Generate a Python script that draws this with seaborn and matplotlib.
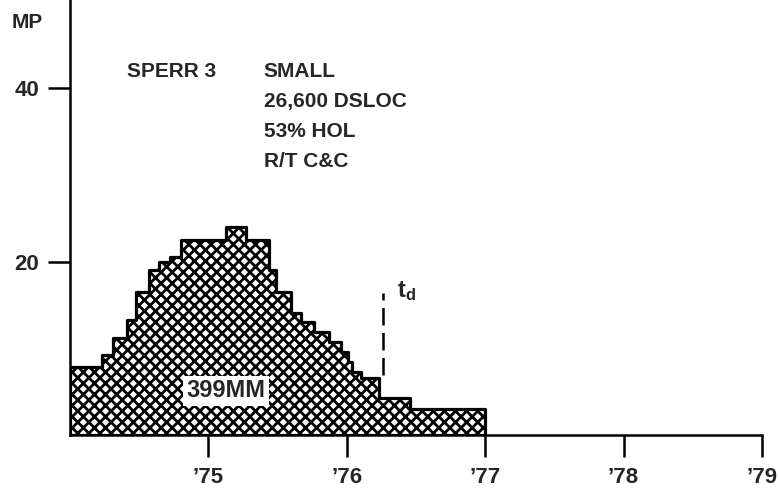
import matplotlib
matplotlib.use('Agg')
import matplotlib.pyplot as plt
import seaborn as sns

# staffing profile: step edges (years) and manpower per step
edges = [1974.0, 1974.23, 1974.31, 1974.41, 1974.48, 1974.57, 1974.64, 1974.72, 1974.80,
         1975.13, 1975.27, 1975.44, 1975.49, 1975.60, 1975.67, 1975.76, 1975.87, 1975.96,
         1976.01, 1976.04, 1976.10, 1976.23, 1976.46, 1977.0]
mp = [7.8, 9.2, 11.2, 13.3, 16.5, 19.0, 20.0, 20.5, 22.5, 24.0, 22.5, 19.0, 16.5, 14.1,
      13.0, 11.9, 10.7, 9.6, 8.4, 7.3, 6.6, 4.3, 3.0]

year_ticks = [1975, 1976, 1977, 1978, 1979]
year_labels = ["\u201975", "\u201976", "\u201977", "\u201978", "\u201979"]
mp_ticks = [20, 40]

td_year = 1976.26
td_range = (6.9, 16.4)
effort_label = "399MM"
title_left = "SPERR 3"
info_lines = ["SMALL", "26,600 DSLOC", "53% HOL", "R/T C&C"]

sns.set_theme(style="white")
plt.rcParams['font.family'] = ['Liberation Sans', 'DejaVu Sans']
plt.rcParams['hatch.color'] = 'black'
plt.rcParams['hatch.linewidth'] = 2.0
plt.rcParams['mathtext.fontset'] = 'custom'
plt.rcParams['mathtext.bf'] = 'Liberation Sans:bold'
plt.rcParams['mathtext.rm'] = 'Liberation Sans:bold'

fig = plt.figure(figsize=(7.79, 4.92), dpi=100)
ax = fig.add_axes([70 / 779, 57 / 492, 692 / 779, 435 / 492])

mids = [(a + b) / 2 for a, b in zip(edges[:-1], edges[1:])]
sns.histplot(x=mids, weights=mp, bins=edges, element="step", fill=True,
             facecolor="white", edgecolor="black", linewidth=2.3, hatch="xxx", ax=ax)

# development time marker
ax.plot([td_year, td_year], td_range, color="black", lw=1.8, ls=(0, (7, 3)))
ax.text(td_year + 0.1, 16.6, r"$\mathbf{t_d}$", fontsize=17, ha="left", va="center")

ax.text(1975.13, 5.1, effort_label, fontsize=17, fontweight="bold", ha="center", va="center",
        bbox=dict(facecolor="white", edgecolor="none", pad=2.5))

ax.text(1974.41, 41.9, title_left, fontsize=15, fontweight="bold", ha="left", va="center")
for i, line in enumerate(info_lines):
    ax.text(1975.40, 41.9 - i * 3.45, line, fontsize=15, fontweight="bold",
            ha="left", va="center")

ax.set_xlim(1974, 1979)
ax.set_ylim(0, 50.2)
ax.set_xticks(year_ticks)
ax.set_xticklabels(year_labels, fontsize=16, fontweight="bold")
ax.set_yticks(mp_ticks)
ax.set_yticklabels([str(v) for v in mp_ticks], fontsize=16, fontweight="bold")
ax.tick_params(axis="both", direction="out", length=16, width=1.8, color="black",
               bottom=True, left=True)
ax.tick_params(axis="x", pad=7)
ax.tick_params(axis="y", pad=6)
ax.set_xlabel("")
ax.set_ylabel("")
for side in ["top", "right"]:
    ax.spines[side].set_visible(False)
for side in ["left", "bottom"]:
    ax.spines[side].set_linewidth(1.8)
    ax.spines[side].set_color("black")

fig.text(27 / 779, 1 - 22 / 492, "MP", fontsize=15, fontweight="bold", ha="center", va="center")

fig.savefig("out.png", dpi=100)
